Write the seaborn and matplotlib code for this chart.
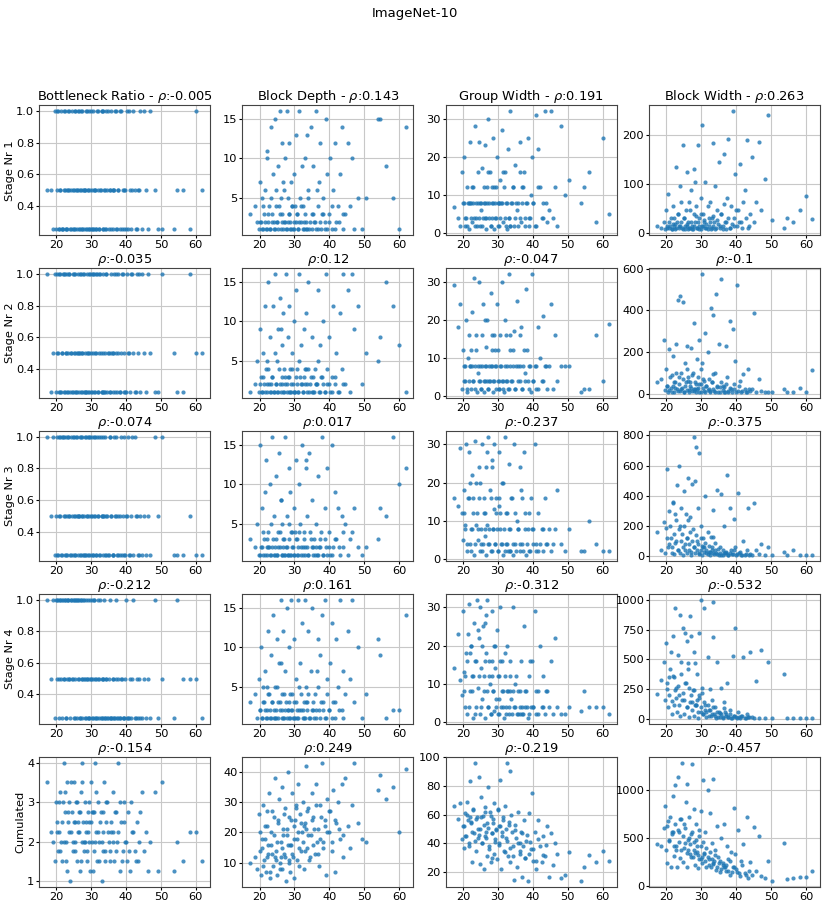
import pandas as pd
import seaborn as sns
import matplotlib
matplotlib.use("Agg")
import matplotlib.pyplot as plt

# shared x value of every sampled model (one entry per model)
x_vals = [
    17.3, 18.6, 19.2, 19.7, 20.0, 20.3, 20.6, 20.9, 21.2, 21.5,
    21.8, 22.1, 22.4, 22.7, 23.0, 23.2, 23.5, 23.8, 24.0, 24.3,
    24.5, 24.8, 25.0, 25.3, 25.5, 25.8, 26.0, 26.3, 26.5, 26.8,
    27.0, 27.3, 27.5, 27.8, 28.0, 28.3, 28.5, 28.8, 29.0, 29.3,
    29.5, 29.8, 30.0, 30.3, 30.6, 30.9, 31.2, 31.5, 31.8, 32.1,
    32.4, 32.7, 33.0, 33.3, 33.6, 33.9, 34.2, 34.6, 35.0, 35.4,
    35.8, 36.2, 36.6, 37.0, 37.4, 37.8, 38.2, 38.6, 39.0, 39.4,
    39.8, 40.2, 40.6, 41.0, 41.5, 42.0, 42.5, 43.0, 43.5, 44.0,
    44.6, 45.2, 45.8, 46.4, 47.0, 48.2, 49.2, 50.4, 53.8, 54.6,
    56.2, 58.2, 60.0, 61.8, 22.0, 26.2, 28.2, 30.2, 33.4, 36.4,
    20.2, 20.7, 21.1, 21.6, 22.2, 22.5, 22.9, 23.4, 23.7, 24.2,
    24.7, 25.1, 25.4, 25.9, 26.4, 26.7, 27.1, 27.4, 27.9, 28.4,
    28.7, 29.1, 29.4, 29.9, 30.4, 30.7, 31.1, 31.4, 31.9, 32.3,
    32.6, 33.1, 33.5, 34.0, 34.4, 34.9, 35.3, 35.7, 36.3, 36.8,
    37.2, 37.7, 38.3, 38.8, 39.3, 40.0, 40.8, 41.6, 42.8, 43.8,
]

columns = ["Bottleneck Ratio", "Block Depth", "Group Width", "Block Width"]
row_labels = ["Stage Nr 1", "Stage Nr 2", "Stage Nr 3", "Stage Nr 4", "Cumulated"]

rho = [
    ["-0.005", "0.143", "0.191", "0.263"],
    ["-0.035", "0.12", "-0.047", "-0.1"],
    ["-0.074", "0.017", "-0.237", "-0.375"],
    ["-0.212", "0.161", "-0.312", "-0.532"],
    ["-0.154", "0.249", "-0.219", "-0.457"],
]

# bottleneck ratio per stage
bottleneck_s1 = [
    0.5, 0.5, 0.25, 1, 0.25, 0.5, 1, 0.25, 0.5, 1,
    0.25, 0.5, 1, 0.25, 0.5, 0.25, 1, 0.5, 0.25, 0.5,
    1, 0.25, 0.5, 0.25, 1, 0.5, 0.25, 0.5, 1, 0.25,
    0.5, 0.25, 1, 0.5, 0.25, 0.5, 1, 0.25, 0.5, 0.25,
    1, 0.5, 0.25, 0.5, 1, 0.25, 0.5, 0.25, 1, 0.5,
    0.25, 0.5, 1, 0.25, 0.5, 0.25, 1, 0.5, 0.25, 0.5,
    1, 0.25, 0.5, 1, 0.25, 0.5, 0.25, 1, 0.5, 0.25,
    0.5, 1, 0.25, 0.5, 0.25, 1, 0.5, 0.25, 0.5, 1,
    0.25, 1, 0.5, 0.25, 1, 0.5, 0.25, 0.25, 0.25, 0.5,
    0.5, 0.25, 1, 0.5, 0.25, 1, 0.5, 0.25, 1, 0.5,
    1, 0.25, 0.5, 0.25, 1, 0.5, 0.25, 0.5, 1, 0.25,
    0.5, 0.25, 1, 0.5, 0.25, 0.5, 1, 0.25, 0.5, 0.25,
    1, 0.5, 0.25, 1, 0.25, 0.5, 0.5, 0.25, 1, 0.25,
    0.5, 1, 0.25, 0.5, 0.25, 1, 0.5, 0.25, 0.5, 1,
    0.25, 0.5, 1, 0.25, 0.5, 0.25, 1, 0.5, 0.25, 0.5,
]
bottleneck_s2 = [
    1, 0.25, 0.5, 1, 0.25, 1, 0.5, 0.25, 1, 0.25,
    0.5, 1, 0.25, 0.5, 1, 0.25, 0.5, 1, 0.25, 0.5,
    0.25, 1, 0.5, 0.25, 1, 0.25, 0.5, 1, 0.25, 0.5,
    1, 0.25, 0.5, 1, 0.25, 0.5, 0.25, 1, 0.5, 0.25,
    0.5, 1, 0.25, 0.25, 0.5, 1, 0.25, 0.5, 1, 0.25,
    1, 0.5, 0.25, 1, 0.25, 0.5, 1, 0.25, 0.5, 0.25,
    0.5, 0.25, 1, 0.5, 0.25, 1, 0.25, 0.5, 1, 0.25,
    0.25, 1, 0.5, 0.25, 1, 0.5, 0.25, 1, 0.5, 0.25,
    1, 0.5, 0.25, 1, 0.5, 0.25, 0.25, 1, 0.5, 0.25,
    0.25, 1, 0.5, 0.5, 1, 0.5, 0.25, 1, 0.25, 0.5,
    0.5, 1, 0.25, 0.5, 0.25, 1, 0.5, 0.25, 1, 0.5,
    0.25, 1, 0.5, 0.25, 0.5, 1, 0.25, 0.5, 1, 0.25,
    0.5, 0.25, 1, 0.5, 1, 0.25, 0.5, 1, 0.25, 0.5,
    1, 0.25, 0.5, 0.25, 1, 0.5, 0.25, 1, 0.5, 0.25,
    1, 0.5, 0.25, 1, 0.5, 0.25, 0.5, 1, 0.25, 1,
]
bottleneck_s3 = [
    1, 0.5, 1, 0.25, 0.5, 1, 0.25, 0.5, 1, 0.25,
    1, 0.5, 0.25, 1, 0.5, 0.25, 1, 0.5, 0.25, 1,
    0.5, 0.25, 1, 0.5, 0.25, 1, 0.5, 0.25, 0.5, 1,
    0.25, 0.5, 1, 0.25, 0.5, 1, 0.25, 0.5, 1, 0.25,
    0.5, 1, 0.25, 0.5, 0.25, 1, 0.5, 0.25, 1, 0.5,
    0.25, 1, 0.5, 0.25, 0.5, 1, 0.25, 0.5, 0.25, 1,
    0.5, 0.25, 1, 0.5, 0.25, 0.5, 0.25, 1, 0.5, 0.25,
    0.25, 0.5, 1, 0.25, 0.5, 0.25, 1, 0.5, 0.25, 0.5,
    0.25, 0.5, 0.25, 0.5, 0.25, 1, 0.5, 1, 0.25, 0.25,
    0.25, 0.5, 0.25, 0.25, 1, 0.5, 0.25, 1, 0.5, 0.25,
    0.25, 1, 0.5, 0.25, 1, 0.5, 0.25, 1, 0.5, 0.25,
    1, 0.5, 0.25, 1, 0.5, 0.25, 1, 0.5, 0.25, 1,
    0.5, 0.25, 1, 0.5, 0.25, 0.5, 1, 0.25, 0.5, 1,
    0.25, 0.5, 1, 0.25, 0.5, 0.25, 1, 0.5, 0.25, 0.5,
    1, 0.25, 0.5, 0.25, 1, 0.5, 0.25, 1, 0.5, 0.25,
]
bottleneck_s4 = [
    1, 0.5, 1, 0.25, 1, 0.5, 1, 0.25, 1, 0.5,
    1, 0.5, 1, 0.25, 1, 0.5, 1, 0.5, 0.25, 1,
    0.5, 1, 0.25, 1, 0.5, 1, 0.25, 0.5, 1, 0.25,
    1, 0.5, 0.25, 1, 0.5, 0.25, 1, 0.5, 0.25, 0.5,
    0.25, 1, 0.5, 0.25, 0.5, 1, 0.25, 0.5, 0.25, 1,
    0.5, 0.25, 0.5, 0.25, 1, 0.25, 0.5, 0.25, 0.5, 0.25,
    0.25, 0.5, 0.25, 1, 0.25, 0.5, 0.25, 0.5, 0.25, 0.25,
    0.5, 0.25, 0.25, 0.5, 0.25, 1, 0.25, 0.5, 0.25, 0.25,
    0.25, 0.5, 0.25, 0.5, 0.25, 1, 0.25, 0.5, 0.25, 1,
    0.5, 0.5, 0.5, 0.25, 1, 1, 0.5, 1, 0.5, 0.25,
    1, 0.5, 1, 0.25, 0.5, 1, 0.25, 1, 0.5, 1,
    0.5, 1, 0.25, 1, 0.5, 0.25, 1, 0.5, 1, 0.25,
    0.5, 1, 0.25, 0.5, 0.25, 1, 0.5, 0.25, 0.5, 0.25,
    1, 0.25, 0.5, 0.25, 0.5, 0.25, 1, 0.25, 0.5, 0.25,
    0.5, 0.25, 0.25, 0.5, 0.25, 1, 0.25, 0.5, 0.25, 0.5,
]
bottleneck_cum = [
    3.5, 2.25, 2, 1.5, 3, 2.5, 1.75, 2.25, 3.25, 2,
    1.5, 4, 2.75, 2, 3.5, 1.25, 2.5, 3, 1, 2.25,
    2.75, 1.75, 3.5, 2, 2.5, 3, 1.5, 2.25, 2.75, 1.25,
    3.25, 2, 4, 2.5, 1.75, 3, 2.25, 1.5, 2.75, 2,
    2.5, 1.25, 3.5, 2, 2.75, 1.75, 4, 2.25, 1.5, 3,
    2, 2.75, 1, 2.25, 3.5, 1.5, 2.5, 3, 2, 1.75,
    2.25, 3.25, 1.5, 2.75, 2, 4, 1.25, 2.5, 1.75, 3,
    2, 1.5, 2.75, 1.25, 3, 2.25, 1.75, 2.5, 1.5, 2.75,
    3.25, 1.75, 2.25, 1.25, 2, 3.25, 1.25, 3.5, 1.25, 2,
    1.5, 2.25, 2.25, 1.5, 3, 2.5, 2, 2.75, 1.75, 2.25,
    2.25, 3, 1.75, 2.5, 2, 3.25, 1.5, 2.75, 2.25, 3.5,
    2, 2.5, 1.75, 3, 2.25, 2.75, 1.5, 3.5, 2, 2.5,
    1.75, 2.25, 3, 2.5, 1.25, 2.75, 2, 3.25, 2.25, 1.5,
    2.5, 2, 2.75, 1.75, 3, 2.25, 1.5, 2.5, 2, 2.75,
    1.75, 2.25, 3, 1.5, 2.5, 2, 1.75, 2.25, 1.5, 2,
]

# block depth per stage
depth_s1 = [
    3, 4, 2, 1, 7, 2, 5, 1, 3, 6,
    1, 11, 2, 4, 1, 14, 3, 8, 2, 15,
    1, 6, 2, 9, 4, 16, 1, 12, 3, 7,
    2, 10, 1, 16, 5, 3, 12, 1, 7, 4,
    1, 8, 2, 13, 3, 1, 16, 5, 2, 9,
    4, 1, 10, 2, 13, 6, 1, 14, 3, 9,
    2, 16, 1, 7, 12, 3, 5, 1, 15, 8,
    3, 10, 1, 6, 12, 2, 4, 8, 14, 1,
    3, 12, 4, 10, 1, 5, 1, 5, 15, 15,
    9, 5, 1, 14, 10, 5, 2, 4, 1, 6,
    2, 1, 4, 2, 1, 3, 1, 5, 2, 1,
    4, 2, 1, 3, 2, 1, 6, 2, 1, 3,
    2, 1, 4, 1, 2, 3, 1, 2, 4, 1,
    2, 3, 1, 5, 2, 1, 3, 2, 1, 4,
    2, 1, 3, 2, 1, 2, 4, 1, 2, 3,
]
depth_s2 = [
    1, 2, 5, 1, 9, 3, 1, 6, 2, 12,
    4, 1, 15, 2, 8, 1, 3, 12, 1, 6,
    16, 2, 1, 9, 4, 13, 1, 7, 2, 11,
    1, 3, 16, 2, 8, 1, 12, 4, 1, 6,
    2, 10, 1, 14, 4, 1, 16, 3, 7, 2,
    1, 9, 4, 11, 2, 15, 1, 3, 8, 1,
    4, 2, 14, 1, 7, 3, 10, 1, 16, 2,
    8, 1, 3, 12, 2, 6, 1, 11, 4, 16,
    2, 14, 1, 16, 9, 12, 2, 6, 5, 8,
    15, 12, 7, 1, 5, 9, 3, 1, 4, 2,
    2, 1, 3, 1, 2, 4, 1, 2, 3, 1,
    2, 5, 1, 2, 3, 1, 4, 2, 1, 3,
    1, 2, 4, 1, 3, 2, 1, 5, 2, 1,
    3, 2, 1, 4, 2, 1, 3, 1, 2, 5,
    1, 3, 2, 1, 4, 2, 1, 3, 1, 2,
]
depth_s3 = [
    3, 2, 5, 1, 15, 2, 7, 1, 3, 9,
    13, 1, 4, 2, 10, 1, 16, 3, 6, 1,
    2, 11, 1, 4, 14, 2, 8, 1, 5, 3,
    1, 16, 2, 6, 1, 12, 3, 9, 1, 4,
    2, 1, 7, 13, 3, 1, 10, 5, 2, 15,
    1, 4, 2, 12, 6, 1, 14, 3, 8, 2,
    1, 5, 11, 2, 3, 16, 1, 7, 2, 12,
    4, 1, 15, 2, 9, 3, 7, 1, 6, 2,
    5, 1, 3, 4, 7, 2, 1, 2, 3, 7,
    6, 16, 10, 12, 2, 8, 1, 4, 13, 1,
    1, 2, 4, 1, 3, 2, 1, 5, 2, 1,
    3, 1, 2, 4, 1, 2, 3, 1, 2, 5,
    1, 4, 2, 1, 3, 1, 2, 4, 1, 2,
    3, 1, 2, 1, 4, 2, 1, 3, 2, 1,
    2, 4, 1, 3, 1, 2, 1, 3, 2, 4,
]
depth_s4 = [
    3, 4, 1, 6, 2, 10, 1, 5, 3, 7,
    1, 2, 12, 4, 1, 9, 3, 14, 2, 1,
    5, 1, 11, 3, 8, 2, 16, 1, 4, 12,
    1, 7, 3, 15, 2, 1, 10, 4, 16, 2,
    1, 11, 3, 6, 1, 16, 2, 8, 4, 13,
    2, 1, 16, 5, 3, 12, 1, 7, 15, 2,
    4, 1, 11, 2, 9, 14, 3, 16, 1, 6,
    2, 8, 13, 3, 1, 11, 5, 16, 2, 7,
    4, 12, 6, 16, 3, 10, 1, 4, 11, 9,
    1, 2, 2, 14, 5, 8, 2, 1, 3, 7,
    2, 1, 3, 2, 1, 4, 2, 1, 3, 1,
    2, 5, 1, 3, 2, 1, 4, 2, 1, 3,
    1, 2, 4, 1, 3, 2, 1, 5, 2, 1,
    3, 1, 2, 4, 1, 2, 3, 1, 2, 5,
    1, 3, 2, 1, 4, 2, 1, 3, 2, 1,
]
depth_cum = [
    10, 12, 8, 26, 20, 6, 15, 29, 11, 18,
    7, 22, 13, 33, 5, 16, 27, 9, 19, 12,
    38, 14, 6, 24, 31, 10, 17, 35, 8, 21,
    13, 28, 4, 19, 40, 11, 25, 7, 16, 33,
    12, 22, 5, 29, 18, 36, 9, 26, 14, 20,
    30, 8, 23, 42, 15, 28, 11, 19, 33, 25,
    13, 36, 21, 9, 29, 43, 17, 24, 6, 31,
    20, 27, 14, 34, 7, 23, 30, 18, 36, 12,
    38, 22, 15, 29, 43, 23, 18, 17, 34, 39,
    31, 35, 20, 41, 27, 12, 16, 24, 21, 17,
    14, 18, 9, 22, 12, 16, 7, 20, 13, 25,
    11, 17, 23, 8, 15, 19, 26, 12, 21, 10,
    16, 24, 13, 18, 28, 11, 20, 15, 23, 17,
    22, 14, 27, 19, 12, 24, 16, 21, 29, 13,
    18, 25, 15, 22, 20, 27, 17, 24, 21, 19,
]

# group width per stage
group_s1 = [
    7, 4, 2, 16, 8, 20, 2, 4, 12, 8,
    1, 24, 8, 3, 12, 4, 28, 8, 2, 16,
    24, 2, 8, 6, 17, 4, 8, 23, 1, 12,
    8, 30, 4, 16, 2, 8, 25, 12, 1, 8,
    4, 20, 8, 2, 14, 8, 27, 3, 12, 16,
    8, 1, 22, 4, 32, 8, 12, 2, 18, 6,
    8, 24, 3, 12, 16, 2, 8, 25, 4, 10,
    20, 8, 2, 31, 22, 12, 4, 8, 32, 3,
    6, 32, 4, 12, 2, 28, 10, 14, 8, 12,
    16, 3, 25, 5, 8, 4, 12, 8, 2, 16,
    8, 4, 2, 8, 4, 12, 8, 2, 4, 8,
    4, 8, 2, 12, 8, 4, 16, 8, 2, 4,
    8, 4, 12, 2, 8, 4, 8, 16, 4, 2,
    8, 4, 2, 8, 12, 4, 8, 2, 4, 8,
    12, 4, 8, 2, 4, 8, 2, 12, 4, 8,
]
group_s2 = [
    29, 18, 24, 2, 12, 8, 4, 20, 1, 10,
    16, 8, 2, 22, 4, 31, 8, 12, 1, 6,
    30, 4, 8, 2, 16, 24, 1, 8, 13, 4,
    20, 2, 8, 4, 27, 8, 1, 16, 4, 12,
    8, 24, 4, 2, 16, 8, 30, 4, 1, 20,
    4, 8, 2, 32, 12, 4, 8, 17, 2, 25,
    8, 4, 18, 2, 12, 6, 28, 4, 8, 1,
    32, 4, 8, 2, 18, 10, 4, 21, 8, 2,
    8, 24, 2, 16, 4, 8, 8, 8, 1, 2,
    2, 16, 4, 19, 8, 4, 12, 2, 16, 8,
    4, 8, 2, 4, 12, 8, 4, 2, 16, 8,
    4, 2, 8, 4, 20, 8, 2, 4, 8, 16,
    4, 8, 2, 12, 4, 8, 4, 2, 8, 16,
    4, 2, 8, 4, 12, 2, 8, 4, 16, 2,
    8, 4, 12, 2, 8, 4, 8, 2, 4, 8,
]
group_s3 = [
    16, 14, 29, 12, 5, 18, 9, 30, 2, 16,
    28, 4, 8, 22, 16, 1, 31, 9, 12, 5,
    24, 2, 20, 8, 30, 4, 16, 12, 1, 28,
    9, 32, 4, 18, 2, 24, 8, 13, 30, 4,
    16, 8, 2, 28, 12, 4, 20, 1, 8, 32,
    4, 12, 2, 25, 8, 16, 1, 30, 4, 10,
    8, 2, 18, 4, 28, 12, 1, 8, 2, 16,
    8, 4, 30, 2, 12, 4, 8, 2, 16, 4,
    8, 2, 4, 8, 18, 4, 2, 8, 2, 2,
    10, 4, 2, 2, 20, 6, 26, 14, 2, 24,
    12, 8, 4, 16, 2, 8, 12, 4, 20, 8,
    16, 4, 2, 12, 8, 24, 4, 8, 16, 2,
    8, 4, 12, 2, 16, 8, 4, 20, 2, 12,
    4, 8, 2, 16, 4, 12, 2, 8, 4, 16,
    2, 8, 4, 12, 2, 8, 4, 2, 8, 4,
]
group_s4 = [
    14, 23, 11, 7, 29, 13, 4, 18, 2, 23,
    31, 8, 20, 12, 1, 26, 16, 4, 32, 9,
    22, 2, 30, 14, 6, 25, 12, 1, 18, 8,
    32, 4, 16, 10, 2, 29, 8, 20, 3, 14,
    6, 24, 2, 12, 30, 4, 16, 8, 1, 18,
    4, 20, 8, 2, 12, 6, 30, 4, 10, 2,
    8, 4, 16, 2, 25, 4, 8, 1, 12, 4,
    16, 4, 29, 2, 8, 20, 4, 12, 2, 8,
    4, 16, 2, 22, 4, 2, 2, 4, 3, 8,
    4, 4, 4, 2, 18, 26, 12, 6, 8, 2,
    8, 12, 16, 4, 20, 8, 12, 2, 16, 24,
    12, 4, 20, 8, 16, 28, 4, 12, 2, 16,
    8, 20, 4, 12, 2, 16, 8, 4, 12, 2,
    8, 4, 16, 2, 8, 4, 12, 2, 8, 4,
    2, 8, 4, 2, 16, 4, 8, 2, 4, 8,
]
group_cum = [
    66, 57, 68, 43, 52, 37, 61, 45, 69, 56,
    40, 83, 54, 27, 63, 47, 96, 35, 58, 44,
    86, 26, 50, 72, 40, 59, 22, 65, 48, 31,
    54, 79, 38, 62, 27, 47, 57, 33, 68, 43,
    50, 29, 64, 40, 84, 22, 48, 56, 35, 66,
    44, 96, 31, 53, 27, 60, 38, 15, 49, 24,
    62, 33, 48, 17, 56, 30, 42, 14, 61, 36,
    75, 28, 48, 22, 56, 38, 27, 45, 31, 52,
    17, 47, 25, 40, 33, 16, 18, 34, 14, 24,
    32, 27, 35, 28, 58, 45, 30, 52, 90, 40,
    52, 45, 60, 38, 55, 48, 64, 42, 57, 50,
    46, 58, 40, 53, 62, 44, 51, 36, 59, 47,
    54, 41, 49, 63, 39, 52, 45, 58, 34, 50,
    42, 55, 37, 48, 31, 53, 44, 40, 35, 47,
    38, 30, 46, 33, 41, 36, 28, 43, 32, 39,
]

# block width per stage
width_s1 = [
    15, 10, 24, 8, 48, 16, 80, 12, 32, 8,
    56, 16, 8, 135, 24, 40, 10, 96, 16, 64,
    12, 180, 32, 8, 48, 125, 16, 24, 64, 10,
    88, 16, 8, 40, 130, 24, 56, 12, 180, 32,
    16, 72, 8, 220, 40, 24, 104, 12, 56, 16,
    64, 8, 32, 184, 24, 96, 12, 48, 145, 16,
    40, 8, 160, 24, 72, 192, 12, 56, 248, 32,
    120, 16, 48, 140, 24, 64, 88, 190, 12, 40,
    155, 24, 64, 185, 48, 110, 240, 28, 10, 32,
    24, 48, 75, 30, 20, 8, 104, 16, 36, 60,
    12, 24, 16, 8, 32, 20, 12, 40, 16, 24,
    8, 32, 16, 20, 12, 48, 24, 8, 16, 36,
    12, 24, 8, 40, 16, 28, 12, 20, 8, 32,
    24, 12, 16, 8, 28, 20, 12, 40, 16, 24,
    8, 32, 12, 20, 16, 48, 24, 12, 32, 16,
]
width_s2 = [
    60, 70, 260, 20, 120, 40, 10, 215, 30, 90,
    180, 12, 60, 240, 24, 450, 80, 16, 470, 100,
    30, 440, 10, 150, 56, 20, 230, 80, 12, 40,
    220, 16, 100, 340, 24, 60, 8, 170, 30, 260,
    48, 120, 10, 575, 72, 16, 290, 40, 200, 24,
    8, 410, 60, 380, 16, 100, 480, 32, 240, 12,
    550, 40, 8, 230, 80, 12, 350, 24, 310, 48,
    160, 520, 16, 64, 8, 96, 24, 8, 120, 16,
    24, 390, 8, 70, 16, 8, 8, 10, 25, 10,
    10, 30, 10, 115, 40, 64, 24, 150, 96, 32,
    40, 20, 80, 12, 60, 30, 100, 16, 50, 24,
    70, 10, 40, 120, 20, 60, 30, 90, 16, 48,
    24, 80, 12, 50, 30, 64, 10, 40, 20, 72,
    16, 56, 24, 12, 40, 8, 32, 60, 20, 12,
    48, 16, 30, 8, 24, 12, 40, 16, 10, 24,
]
width_s3 = [
    160, 40, 230, 20, 190, 580, 60, 300, 120, 20,
    360, 16, 280, 100, 470, 40, 600, 200, 24, 320,
    150, 10, 430, 80, 280, 20, 120, 520, 40, 260,
    8, 480, 180, 60, 790, 20, 720, 100, 320, 16,
    680, 40, 200, 10, 120, 60, 400, 24, 160, 30,
    8, 130, 40, 310, 16, 90, 24, 440, 10, 60,
    410, 8, 200, 20, 540, 12, 320, 40, 16, 250,
    60, 16, 420, 30, 8, 100, 12, 40, 320, 16,
    8, 350, 40, 16, 80, 12, 60, 10, 30, 10,
    40, 10, 10, 10, 350, 240, 500, 72, 130, 24,
    120, 80, 200, 60, 150, 90, 240, 40, 180, 100,
    60, 200, 40, 120, 80, 160, 30, 100, 60, 140,
    40, 80, 20, 120, 60, 30, 90, 40, 16, 70,
    30, 60, 20, 40, 16, 50, 24, 12, 40, 20,
    30, 12, 24, 16, 40, 10, 20, 12, 16, 10,
]
width_s4 = [
    210, 330, 480, 160, 640, 250, 100, 350, 560, 40,
    700, 120, 930, 260, 60, 540, 200, 870, 30, 480,
    160, 760, 40, 720, 300, 650, 100, 470, 20, 860,
    700, 140, 240, 560, 30, 470, 120, 380, 10, 720,
    180, 60, 1000, 260, 40, 930, 120, 20, 520, 80,
    250, 30, 160, 690, 40, 100, 10, 480, 60, 20,
    260, 8, 140, 40, 300, 20, 80, 10, 530, 30,
    760, 10, 60, 8, 30, 520, 10, 40, 16, 560,
    20, 8, 320, 10, 580, 8, 480, 8, 380, 8,
    8, 8, 8, 8, 360, 420, 120, 220, 980, 90,
    300, 200, 420, 150, 350, 240, 180, 280, 120, 380,
    220, 160, 300, 100, 260, 140, 200, 80, 240, 120,
    160, 60, 200, 100, 40, 140, 80, 60, 120, 30,
    80, 40, 100, 30, 60, 20, 50, 40, 16, 60,
    30, 20, 40, 12, 30, 20, 16, 24, 12, 20,
]
width_cum = [
    440, 420, 600, 830, 380, 240, 680, 470, 200, 560,
    930, 310, 1050, 420, 200, 1130, 560, 290, 700, 380,
    1280, 250, 640, 450, 870, 200, 1060, 380, 720, 330,
    540, 1270, 300, 800, 460, 220, 650, 360, 190, 580,
    280, 780, 420, 240, 1100, 330, 560, 200, 1000, 280,
    760, 200, 450, 1110, 260, 380, 170, 620, 240, 150,
    500, 220, 640, 160, 420, 280, 120, 360, 200, 810,
    330, 150, 580, 110, 260, 440, 140, 720, 90, 250,
    120, 610, 160, 520, 110, 90, 260, 55, 450, 75,
    90, 95, 100, 160, 560, 480, 350, 300, 230, 200,
    620, 480, 720, 540, 420, 650, 380, 580, 460, 700,
    520, 400, 600, 350, 500, 440, 300, 560, 380, 480,
    420, 320, 520, 280, 460, 340, 260, 400, 300, 220,
    360, 280, 240, 320, 200, 300, 260, 180, 240, 200,
    220, 160, 260, 150, 200, 180, 140, 220, 120, 160,
]

grid_values = [
    [bottleneck_s1, depth_s1, group_s1, width_s1],
    [bottleneck_s2, depth_s2, group_s2, width_s2],
    [bottleneck_s3, depth_s3, group_s3, width_s3],
    [bottleneck_s4, depth_s4, group_s4, width_s4],
    [bottleneck_cum, depth_cum, group_cum, width_cum],
]

plt.rcParams["font.family"] = ["DejaVu Sans"]
plt.rcParams["mathtext.fontset"] = "dejavusans"

fig, axes = plt.subplots(5, 4, figsize=(8.3, 9.06), dpi=100)
fig.subplots_adjust(left=0.047, right=0.988, top=0.884, bottom=0.021,
                    wspace=0.19, hspace=0.25)

for r in range(5):
    for c in range(4):
        ax = axes[r, c]
        df = pd.DataFrame({"x": x_vals, "y": grid_values[r][c]})
        sns.scatterplot(data=df, x="x", y="y", ax=ax, s=9, color="#1f77b4",
                        alpha=0.8, linewidth=0)
        ax.set_xticks([20, 30, 40, 50, 60])
        ax.grid(True, color="#c8c8c8", linewidth=0.8)
        ax.set_axisbelow(True)
        ax.tick_params(labelsize=8.2, length=2, pad=1.5)
        for sp in ax.spines.values():
            sp.set_color("#444444")
        ax.set_xlabel("")
        ax.set_ylabel(row_labels[r] if c == 0 else "", fontsize=8.2, labelpad=1)
        if r == 0:
            ax.set_title(columns[c] + r" - $\rho$:" + rho[r][c], fontsize=9.4, pad=1)
        else:
            ax.set_title(r"$\rho$:" + rho[r][c], fontsize=9.4, pad=1)

fig.suptitle("ImageNet-10", fontsize=9.5, y=0.992)
fig.savefig("out.png", dpi=100)
